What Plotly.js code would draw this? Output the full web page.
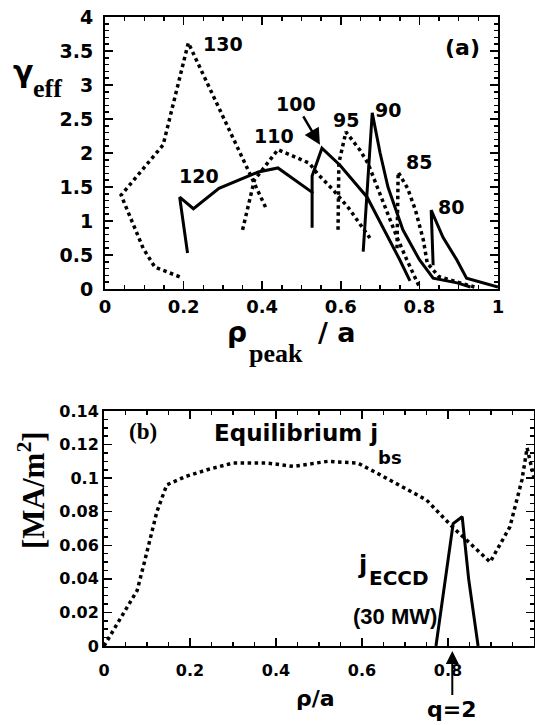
<!DOCTYPE html>
<html><head><meta charset="utf-8">
<script src="https://cdn.plot.ly/plotly-3.0.1.min.js"></script>
<style>html,body{margin:0;padding:0;background:#fff}#c{width:535px;height:725px}</style>
</head><body><div id="c"></div>
<script>
// ---- Panel (a): gamma_eff vs rho_peak/a ----
const x130 = [0.19, 0.127, 0.097, 0.041, 0.148, 0.212, 0.412];
const y130 = [0.18, 0.32, 0.60, 1.38, 2.12, 3.62, 1.16];
const x120 = [0.21, 0.19, 0.225, 0.29, 0.39, 0.44, 0.53];
const y120 = [0.53, 1.35, 1.18, 1.48, 1.72, 1.78, 1.41];
const x110 = [0.35, 0.38, 0.44, 0.52, 0.54, 0.58, 0.62, 0.657, 0.674];
const y110 = [0.87, 1.60, 2.05, 1.85, 1.70, 1.46, 1.19, 0.90, 0.75];
const x100 = [0.527, 0.527, 0.552, 0.598, 0.667, 0.707, 0.75, 0.776];
const y100 = [0.90, 1.66, 2.07, 1.82, 1.35, 0.91, 0.43, 0.12];
const x95 = [0.593, 0.595, 0.613, 0.649, 0.669, 0.692, 0.718, 0.743, 0.768, 0.80];
const y95 = [0.87, 1.85, 2.31, 2.04, 1.85, 1.50, 1.12, 0.76, 0.43, 0.03];
const x90 = [0.657, 0.68, 0.70, 0.72, 0.758, 0.80, 0.835, 0.896, 0.93];
const y90 = [0.55, 2.59, 2.00, 1.50, 0.87, 0.43, 0.16, 0.09, 0.03];
const x85 = [0.743, 0.746, 0.77, 0.79, 0.81, 0.82, 0.85, 0.90, 0.94];
const y85 = [0.60, 1.72, 1.48, 1.16, 0.72, 0.38, 0.18, 0.09, 0.03];
const x80 = [0.835, 0.83, 0.86, 0.895, 0.92, 0.96, 1.0];
const y80 = [0.35, 1.16, 0.76, 0.43, 0.16, 0.09, 0.03];
const labelsA = ["130", "120", "110", "95", "90", "85", "80"];
const labelAx = [0.30, 0.24, 0.43, 0.613, 0.72, 0.80, 0.88];
const labelAy = [3.60, 1.66, 2.25, 2.49, 2.63, 1.87, 1.21];

// ---- Panel (b): current densities vs rho/a ----
const xbs = [0, 0.077, 0.095, 0.123, 0.146, 0.19, 0.24, 0.30, 0.38, 0.44, 0.52, 0.59, 0.635, 0.75, 0.81, 0.898, 0.944, 0.972, 0.984, 1.0];
const ybs = [0, 0.033, 0.051, 0.080, 0.096, 0.101, 0.105, 0.109, 0.109, 0.107, 0.110, 0.109, 0.103, 0.087, 0.071, 0.050, 0.071, 0.099, 0.118, 0.100];
const xec = [0.772, 0.812, 0.833, 0.848, 0.87];
const yec = [0, 0.073, 0.077, 0.040, 0];

const W = 535, H = 725;
const px = v => v / W, py = v => 1 - v / H;
const SANS = "DejaVu Sans", SERIF = "Liberation Serif";

function tr(x, y, dash, xa, ya) {
  return {x: x, y: y, xaxis: xa, yaxis: ya, mode: 'lines', hoverinfo: 'skip',
    line: {color: '#000', width: dash === 'dot' ? 3.5 : 3, dash: dash}};
}
const data = [
  tr(x130, y130, 'dot', 'x', 'y'),
  tr(x120, y120, 'solid', 'x', 'y'),
  tr(x110, y110, 'dot', 'x', 'y'),
  tr(x100, y100, 'solid', 'x', 'y'),
  tr(x95, y95, 'dot', 'x', 'y'),
  tr(x90, y90, 'solid', 'x', 'y'),
  tr(x85, y85, 'dot', 'x', 'y'),
  tr(x80, y80, 'solid', 'x', 'y'),
  tr(xbs, ybs, 'dot', 'x2', 'y2'),
  tr(xec, yec, 'solid', 'x2', 'y2')
];

const axBase = {showgrid: false, zeroline: false, showline: true, linecolor: '#000', linewidth: 2,
  mirror: 'ticks', ticks: 'inside', tickcolor: '#000', tickwidth: 1.5, ticklen: 8};

function ann(text, x, y, size, fam, extra) {
  return Object.assign({text: text, x: x, y: y, xref: 'paper', yref: 'paper', showarrow: false,
    xanchor: 'center', yanchor: 'middle',
    font: {family: fam, size: size, color: '#000', weight: 'bold'}}, extra || {});
}

const annotations = [];
labelsA.forEach((t, i) => annotations.push({text: t, x: labelAx[i], y: labelAy[i], xref: 'x', yref: 'y',
  showarrow: false, font: {family: SANS, size: 19, color: '#000', weight: 'bold'}}));
annotations.push({text: "100", x: 0.547, y: 2.12, xref: 'x', yref: 'y', showarrow: true,
  ax: -24, ay: -41, arrowhead: 2, arrowsize: 1.3, arrowwidth: 2.5, arrowcolor: '#000', standoff: 0,
  font: {family: SANS, size: 19, color: '#000', weight: 'bold'}});
annotations.push(ann("(a)", px(462), py(47), 22, SANS));
annotations.push(ann("γ", px(23), py(72), 30, SANS));
annotations.push(ann("eff", px(48), py(88), 26, SERIF));
annotations.push(ann("ρ", px(237), py(333), 28, SANS));
annotations.push(ann("peak", px(276), py(353), 26, SERIF));
annotations.push(ann("/ a", px(336), py(332), 27, SANS));
annotations.push(ann("(b)", px(143), py(432), 23, SERIF));
annotations.push(ann("Equilibrium j", px(212), py(433), 23, SANS, {xanchor: 'left'}));
annotations.push(ann("bs", px(390), py(458), 18, SANS));
annotations.push(ann("j", px(362), py(565), 24, SANS));
annotations.push(ann("ECCD", px(399), py(578), 20, SANS));
annotations.push(ann("(30 MW)", px(395), py(616), 22, "Liberation Sans Narrow, Liberation Sans"));
annotations.push(ann("ρ/a", px(315), py(698), 22, SANS));
annotations.push(ann("[MA/m<sup>2</sup>]", px(31), py(490), 31, SERIF, {textangle: -90}));
annotations.push({text: "q=2", x: 0.81, y: py(651), xref: 'x2', yref: 'paper', showarrow: true,
  ax: 0, ay: 58, arrowhead: 2, arrowsize: 1.3, arrowwidth: 2, arrowcolor: '#000', standoff: 0,
  font: {family: SANS, size: 22, color: '#000', weight: 'bold'}});

const layout = {
  width: W, height: H, margin: {l: 0, r: 0, t: 0, b: 0}, showlegend: false,
  paper_bgcolor: '#fff', plot_bgcolor: '#fff',
  xaxis: Object.assign({}, axBase, {domain: [px(105), px(498)], range: [0, 1], dtick: 0.2, tick0: 0,
    minor: {dtick: 0.05, ticks: 'inside', ticklen: 4, tickcolor: '#000'},
    tickfont: {family: SANS, size: 18, color: '#000', weight: 'bold'}, ticklabelstandoff: 0, anchor: 'y'}),
  yaxis: Object.assign({}, axBase, {domain: [py(289), py(17)], range: [0, 4], dtick: 0.5, tick0: 0,
    minor: {dtick: 0.1, ticks: 'inside', ticklen: 4, tickcolor: '#000'},
    tickfont: {family: SANS, size: 19, color: '#000', weight: 'bold'}, ticklabelstandoff: 6, anchor: 'x'}),
  xaxis2: Object.assign({}, axBase, {domain: [px(104), px(534)], range: [0, 1], dtick: 0.2, tick0: 0,
    minor: {dtick: 0.05, ticks: 'inside', ticklen: 4, tickcolor: '#000'},
    tickfont: {family: SANS, size: 16, color: '#000', weight: 'bold'}, ticklabelstandoff: 9, anchor: 'y2'}),
  yaxis2: Object.assign({}, axBase, {domain: [py(646), py(411)], range: [0, 0.14], dtick: 0.02, tick0: 0,
    minor: {dtick: 0.005, ticks: 'inside', ticklen: 4, tickcolor: '#000'},
    tickfont: {family: SANS, size: 16, color: '#000', weight: 'bold'}, ticklabelstandoff: 0, anchor: 'x2'}),
  annotations: annotations
};
Plotly.newPlot('c', data, layout, {staticPlot: true});
</script></body></html>
